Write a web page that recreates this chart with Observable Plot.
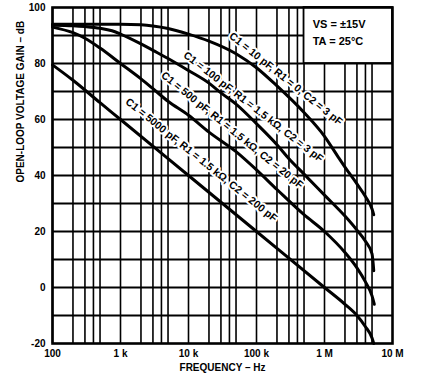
<!DOCTYPE html>
<html><head><meta charset="utf-8">
<script src="https://cdn.jsdelivr.net/npm/d3@7"></script>
<script src="https://cdn.jsdelivr.net/npm/@observablehq/plot@0.6"></script>
<style>
body{margin:0;background:#fff}
svg{font-family:"Liberation Sans",Arial,sans-serif;font-weight:bold}
</style>
</head><body><div id="chart"></div>
<script>
// Axis ticks
const freqTicks = [100, 1e3, 1e4, 1e5, 1e6, 1e7];
const freqTickLabels = ["100", "1 k", "10 k", "100 k", "1 M", "10 M"];
const gainTicks = [-20, 0, 20, 40, 60, 80, 100];
const gainGrid = [-10, 0, 10, 20, 30, 40, 50, 60, 70, 80, 90];
const gridMultiples = [1, 2, 3, 4, 5];

// Curve 1: C1 = 10 pF, R1 = 0, C2 = 3 pF
const c1Freq = [100, 300, 1000, 2000, 3000, 5000, 1e4, 2e4, 5e4, 1e5, 2e5, 5e5, 1e6, 1.6e6, 2e6, 3e6, 4e6, 5e6, 5.3e6];
const c1Gain = [94, 94, 94, 93.8, 93.4, 92.5, 90.5, 88, 83.5, 78.5, 72, 62.5, 54, 46.5, 43, 37, 32.5, 28, 26];
// Curve 2: C1 = 100 pF, R1 = 1.5 kΩ, C2 = 3 pF
const c2Freq = [100, 200, 300, 500, 750, 1000, 2000, 3000, 5000, 1e4, 2e4, 3e4, 5e4, 1e5, 2e5, 3e5, 5e5, 1e6, 2e6, 3e6, 4e6, 5e6, 5.3e6];
const c2Gain = [93.7, 93.5, 93.2, 92.6, 91.7, 90.5, 87, 84.7, 81.8, 77.5, 73, 69.5, 65.5, 58.5, 51, 46, 40.5, 33, 25.5, 20.5, 16.5, 12, 6];
// Curve 3: C1 = 500 pF, R1 = 1.5 kΩ, C2 = 20 pF
const c3Freq = [100, 200, 300, 500, 1000, 2000, 3000, 5000, 1e4, 2e4, 5e4, 1e5, 2e5, 5e5, 1e6, 2e6, 3e6, 4e6, 5e6, 5.4e6];
const c3Gain = [93, 91, 89, 85.5, 80, 74.5, 71, 66.5, 61.5, 55.5, 48.5, 42, 35, 26, 20, 12.5, 7, 2, -3, -6];
// Curve 4: C1 = 5000 pF, R1 = 1.5 kΩ, C2 = 200 pF
const c4Freq = [100, 200, 500, 1000, 1e4, 1e5, 1e6, 2e6, 3e6, 4e6, 5e6, 5.3e6];
const c4Gain = [79.5, 74, 66, 60, 40, 20, 0, -6, -10, -14, -18, -20];

// Curve labels
const labelText = [
  "C1 = 10 pF, R1 = 0, C2 = 3 pF",
  "C1 = 100 pF, R1 = 1.5 kΩ, C2 = 3 pF",
  "C1 = 500 pF, R1 = 1.5 kΩ, C2 = 20 pF",
  "C1 = 5000 pF, R1 = 1.5 kΩ, C2 = 200 pF"
];
const labelFreq = [270000, 90000, 44000, 15500];
const labelGain = [74.5, 64.5, 56.2, 45.5];
const labelAngle = [38.7, 37.8, 39, 38.7];

const conditionText = ["VS = ±15V", "TA = 25°C"];
const conditionFreq = 670000;
const conditionGain = [93.8, 87.8];

// build tables
const curves = [[c1Freq, c1Gain], [c2Freq, c2Gain], [c3Freq, c3Gain], [c4Freq, c4Gain]]
  .flatMap(([f, g], k) => f.map((v, i) => ({freq: v, gain: g[i], curve: k})));
const labels = labelText.map((t, i) => ({text: t, freq: labelFreq[i], gain: labelGain[i], angle: labelAngle[i]}));
const conds = conditionText.map((t, i) => ({text: t, freq: conditionFreq, gain: conditionGain[i]}));

const minorFreqs = [];
for (let d = 100; d < 1e7; d *= 10) for (const m of gridMultiples) minorFreqs.push(d * m);

const plot = Plot.plot({
  width: 425, height: 392,
  marginLeft: 52, marginRight: 33, marginTop: 7, marginBottom: 49,
  style: {fontFamily: "Liberation Sans, Arial, sans-serif", fontSize: "10px", fontWeight: "bold", background: "white", color: "black"},
  x: {type: "log", domain: [100, 1e7]},
  y: {domain: [-20, 100]},
  marks: [
    Plot.gridX(minorFreqs, {stroke: "black", strokeOpacity: 1, strokeWidth: 1.6}),
    Plot.gridY(gainGrid, {stroke: "black", strokeOpacity: 1, strokeWidth: 1.8}),
    Plot.rect([{x1: 5e5, x2: 1e7, y1: 80, y2: 100}], {x1: "x1", x2: "x2", y1: "y1", y2: "y2", fill: "white", stroke: "black", strokeWidth: 1.8}),
    Plot.frame({stroke: "black", strokeWidth: 2.6}),
    Plot.text(labels, {x: "freq", y: "gain", text: "text", rotate: "angle", fontSize: 10.5, fontWeight: "bold", fill: "black", stroke: "white", strokeWidth: 4, ariaLabel: "curve-labels"}),
    Plot.line(curves, {x: "freq", y: "gain", z: "curve", stroke: "black", strokeWidth: 3, curve: "monotone-x"}),
    Plot.text(conds, {x: "freq", y: "gain", text: "text", textAnchor: "start", fontSize: 11, fontWeight: "bold", fill: "black", ariaLabel: "cond-labels"}),
    Plot.axisX({ticks: freqTicks, tickFormat: d => freqTickLabels[freqTicks.indexOf(d)], tickSize: 0, tickPadding: 6, label: null, fontSize: 10, fontWeight: "bold"}),
    Plot.axisY({ticks: gainTicks, tickSize: 0, tickPadding: 7, label: null, fontSize: 10, fontWeight: "bold", tickFormat: d => String(d).replace("−", "-")}),
    Plot.text(["FREQUENCY – Hz"], {frameAnchor: "bottom", dy: 27, fontSize: 10, fontWeight: "bold", ariaLabel: "x-title"}),
    Plot.text(["OPEN-LOOP VOLTAGE GAIN – dB"], {frameAnchor: "left", dx: -32, dy: 7, rotate: -90, fontSize: 10, fontWeight: "bold", ariaLabel: "y-title"})
  ]
});
document.getElementById("chart").appendChild(plot);
const svg = d3.select(plot);
svg.selectAll('g[aria-label="curve-labels"] text').style("letter-spacing", "0.8px");
svg.selectAll('g[aria-label="cond-labels"] text').style("letter-spacing", "1.2px");
svg.selectAll('g[aria-label="x-title"] text').style("letter-spacing", "2px");
svg.selectAll('g[aria-label="y-title"] text').style("letter-spacing", "1.4px");
</script>
</body></html>
